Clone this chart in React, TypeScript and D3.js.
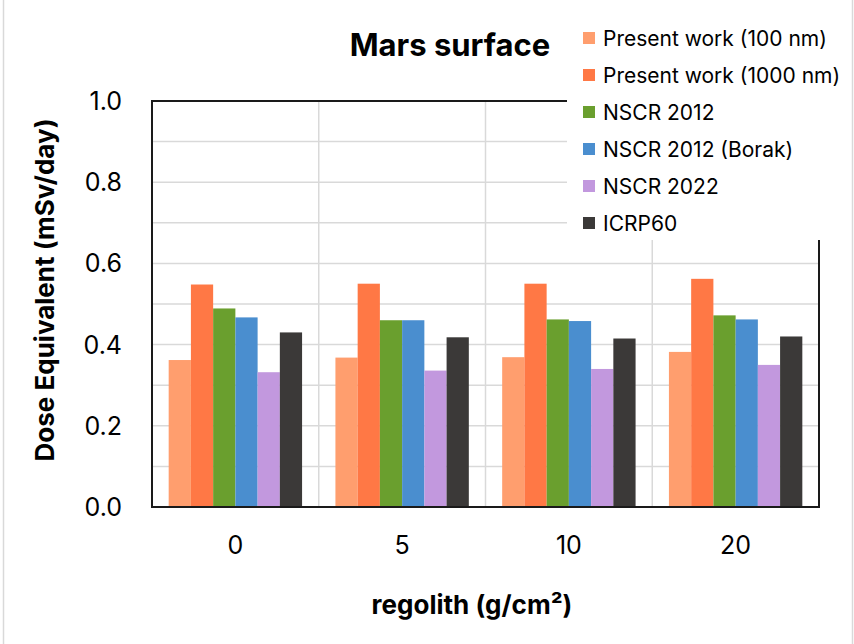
import React from "react";
import * as d3 from "d3";

const categories = ["0", "5", "10", "20"];
const seriesNames = [
  "Present work (100 nm)",
  "Present work (1000 nm)",
  "NSCR 2012",
  "NSCR 2012 (Borak)",
  "NSCR 2022",
  "ICRP60",
];
const seriesColors = ["#FF9E6E", "#FF7845", "#6A9F2E", "#4A8ECF", "#C298DE", "#3B3938"];
const present100 = [0.362, 0.368, 0.369, 0.382];
const present1000 = [0.548, 0.55, 0.55, 0.562];
const nscr2012 = [0.489, 0.46, 0.462, 0.472];
const nscr2012Borak = [0.467, 0.46, 0.458, 0.462];
const nscr2022 = [0.332, 0.336, 0.34, 0.35];
const icrp60 = [0.43, 0.418, 0.415, 0.42];
const seriesValues = [present100, present1000, nscr2012, nscr2012Borak, nscr2022, icrp60];
const yTicks = [0, 0.2, 0.4, 0.6, 0.8, 1.0];
const yGrid = d3.range(0, 11).map((i) => i / 10);

const FONT = "Inter, 'Liberation Sans', Arial, sans-serif";

export default function App() {
  const W = 854, H = 644;
  const left = 152, right = 819, top = 101, bottom = 507;
  const x0 = d3.scaleBand<string>().domain(categories).range([left, right]).padding(0);
  const bw = x0.bandwidth();
  const x1 = d3.scaleBand<string>().domain(seriesNames).range([bw * 0.1, bw * 0.9]).padding(0);
  const y = d3.scaleLinear().domain([0, 1]).range([bottom, top]);

  return (
    <svg width={W} height={H} style={{ position: "absolute", left: 0, top: 0, background: "#fff" }} fontFamily={FONT}>
      <rect x={0} y={0} width={W} height={H} fill="#fff" />
      <line x1={3.5} x2={3.5} y1={0} y2={H} stroke="#d9d9d9" strokeWidth={1.5} />
      <line x1={852.5} x2={852.5} y1={0} y2={H} stroke="#d9d9d9" strokeWidth={1.5} />
      {/* gridlines */}
      {yGrid.map((v) => (
        <line key={"h" + v} x1={left} x2={right} y1={y(v)} y2={y(v)} stroke="#d9d9d9" strokeWidth={1.5} />
      ))}
      {categories.slice(1).map((c) => (
        <line key={"v" + c} x1={x0(c)} x2={x0(c)} y1={top} y2={bottom} stroke="#d9d9d9" strokeWidth={1.5} />
      ))}
      {/* bars */}
      {categories.map((c, ci) => (
        <g key={c} transform={`translate(${x0(c)},0)`}>
          {seriesNames.map((s, si) => (
            <rect
              key={s}
              x={x1(s)}
              y={y(seriesValues[si][ci])}
              width={x1.bandwidth()}
              height={bottom - y(seriesValues[si][ci])}
              fill={seriesColors[si]}
            />
          ))}
        </g>
      ))}
      {/* frame */}
      <rect x={left} y={top} width={right - left} height={bottom - top} fill="none" stroke="#1a1a1a" strokeWidth={2} />
      {/* y tick labels */}
      {yTicks.map((v) => (
        <text key={"yt" + v} x={122} y={y(v)} dy="0.36em" textAnchor="end" fontSize={25} fill="#000">
          {d3.format(".1f")(v)}
        </text>
      ))}
      {/* x tick labels */}
      {categories.map((c) => (
        <text key={"xt" + c} x={(x0(c) as number) + bw / 2} y={545} dy="0.36em" textAnchor="middle" fontSize={25} fill="#000">
          {c}
        </text>
      ))}
      {/* axis titles */}
      <text x={472} y={605} dy="0.36em" textAnchor="middle" fontSize={26} fontWeight="bold" fill="#000">
        regolith (g/cm²)
      </text>
      <text transform={`translate(45,290) rotate(-90)`} dy="0.36em" textAnchor="middle" fontSize={26} fontWeight="bold" fill="#000">
        Dose Equivalent (mSv/day)
      </text>
      {/* title */}
      <text x={450} y={56} textAnchor="middle" fontSize={31} fontWeight="bold" fill="#000">
        Mars surface
      </text>
      {/* legend */}
      <rect x={567} y={10} width={284} height={230} fill="#fff" />
      {seriesNames.map((s, i) => (
        <g key={"lg" + s} transform={`translate(583,${38 + i * 37})`}>
          <rect x={0} y={-6} width={12} height={12} fill={seriesColors[i]} />
          <text x={20} y={0} dy="0.36em" fontSize={21} fill="#000">
            {s}
          </text>
        </g>
      ))}
    </svg>
  );
}
